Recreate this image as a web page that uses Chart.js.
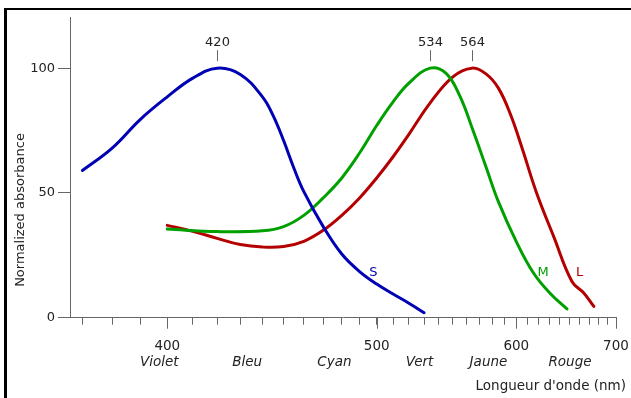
<!DOCTYPE html>
<html>
<head>
<meta charset="utf-8">
<script src="https://cdn.jsdelivr.net/npm/chart.js@4.4.0/dist/chart.umd.min.js"></script>
<style>
  body { margin: 0; background: #fff; }
  #wrap { position: relative; width: 631px; height: 398px; }
  #frame { position: absolute; left: 4px; top: 8px; right: 0; bottom: 0;
           border-left: 3px solid #000; border-top: 2px solid #000; pointer-events: none; }
</style>
</head>
<body>
<div id="wrap">
  <canvas id="myChart" width="631" height="398"></canvas>
  <div id="frame"></div>
</div>
<script>
// courbes S, M, L (longueur d'onde en nm, absorbance normalisee)
var sWl  = [370, 380, 390, 400, 410, 420, 430, 440, 445, 450, 455, 460, 470, 480, 490, 500, 510, 520, 530];
var sAbs = [59, 68, 79.5, 88.5, 96, 100, 97.5, 88.5, 81, 71, 60, 50.5, 36.5, 25.5, 18.5, 13.5, 9.5, 5.8, 2];

var mWl  = [400, 420, 440, 450, 460, 470, 480, 490, 500, 510, 520, 534, 545, 555, 565, 575, 585, 600, 615, 630, 647];
var mAbs = [35.5, 34.5, 34.8, 36.5, 41, 48, 56, 66, 77, 86.5, 94, 100, 98, 89, 75, 60.5, 46.5, 30.5, 18, 10, 3.5];

var lWl  = [400, 410, 420, 430, 440, 450, 460, 470, 480, 490, 500, 510, 520, 534, 550, 564, 575, 585, 595, 605, 618, 634, 652, 664, 675];
var lAbs = [37, 34.6, 31.8, 29.3, 28.3, 28.5, 30.6, 35, 41, 48, 56, 64.5, 73.5, 86, 96.5, 100, 97.7, 92, 81.5, 68, 50, 32.5, 14.5, 10, 4.5];

// axes
var minorWl = [370, 380, 390, 400, 410, 420, 430, 440, 450, 460, 470, 480, 490, 500, 510, 520, 530, 540, 550,
               560, 570, 580, 590, 600, 610, 620, 630, 640, 650, 660, 670, 680, 690, 700];
var majorWl = [400, 500, 600, 700];
var yTicks = [0, 50, 100];
var colorNames = ['Violet', 'Bleu', 'Cyan', 'Vert', 'Jaune', 'Rouge'];
var colorWl = [397, 433, 476, 527, 577, 650];

// pics et noms des courbes
var peakWl = [420, 534, 564];
var curveNames = ['S', 'M', 'L'];
var curveColors = ['#0000b4', '#00a000', '#b40000'];
var nameWl = [498, 624, 660];
var nameAbs = [18.2, 18.2, 18.2];

// echelle en 1/lambda
function inv(w) { return 1e6 / w; }
function toPoints(wl, v) {
    var pts = [];
    for (let i = 0; i < wl.length; i++) pts.push({x: inv(wl[i]), y: v[i]});
    return pts;
}

const font = 'DejaVu Sans, Verdana, sans-serif';

const overlay = {
    id: 'overlay',
    afterDraw(chart) {
        const ctx = chart.ctx;
        const x = chart.scales.x, y = chart.scales.y;
        ctx.save();
        // ticks majeurs plus longs
        ctx.strokeStyle = '#666';
        ctx.lineWidth = 1;
        majorWl.forEach(w => {
            const px = Math.round(x.getPixelForValue(inv(w))) + 0.5;
            ctx.beginPath();
            ctx.moveTo(px, y.bottom);
            ctx.lineTo(px, y.bottom + 11);
            ctx.stroke();
        });
        // pics
        const top = y.getPixelForValue(100);
        ctx.fillStyle = '#222';
        ctx.font = '13px ' + font;
        ctx.textAlign = 'center';
        ctx.textBaseline = 'middle';
        peakWl.forEach(w => {
            const px = Math.round(x.getPixelForValue(inv(w))) + 0.5;
            ctx.beginPath();
            ctx.moveTo(px, top - 18);
            ctx.lineTo(px, top - 7);
            ctx.stroke();
            ctx.fillText(String(w), px, top - 26);
        });
        // S M L
        for (let i = 0; i < curveNames.length; i++) {
            ctx.fillStyle = curveColors[i];
            ctx.fillText(curveNames[i], x.getPixelForValue(inv(nameWl[i])), y.getPixelForValue(nameAbs[i]));
        }
        // titres
        ctx.fillStyle = '#222';
        ctx.font = '13.5px ' + font;
        ctx.textAlign = 'right';
        ctx.fillText("Longueur d'onde (nm)", 626, 386);
        ctx.translate(21, 210);
        ctx.rotate(-Math.PI / 2);
        ctx.textAlign = 'center';
        ctx.font = '13px ' + font;
        ctx.fillText('Normalized absorbance', 0, 0);
        ctx.restore();
    }
};

const ctx = document.getElementById('myChart').getContext('2d');

const myChart = new Chart(ctx, {
    type: 'line',
    data: {
        datasets: [
            { label: 'S', data: toPoints(sWl, sAbs), borderColor: curveColors[0] },
            { label: 'M', data: toPoints(mWl, mAbs), borderColor: curveColors[1] },
            { label: 'L', data: toPoints(lWl, lAbs), borderColor: curveColors[2] }
        ]
    },
    options: {
        responsive: false,
        animation: false,
        layout: { padding: { left: 0, right: 15, top: 17, bottom: 0 } },
        elements: {
            line: { borderWidth: 3, fill: false, tension: 0.4, borderCapStyle: 'round', borderJoinStyle: 'round' },
            point: { radius: 0 }
        },
        plugins: { legend: { display: false }, tooltip: { enabled: false } },
        scales: {
            x: {
                type: 'linear',
                reverse: true,
                min: inv(700),
                max: inv(366),
                afterBuildTicks: (s) => { s.ticks = minorWl.map(w => ({value: inv(w)})); },
                afterFit: (s) => { s.height = 33; },
                grid: { drawOnChartArea: false, tickLength: 7, color: '#666' },
                border: { color: '#666' },
                ticks: {
                    autoSkip: false, maxRotation: 0, padding: 2, color: '#222',
                    font: { family: font, size: 13.5, lineHeight: 2.9 },
                    callback: (v) => {
                        const w = Math.round(1e6 / v);
                        return majorWl.includes(w) ? String(w) : '';
                    }
                }
            },
            x2: {
                type: 'linear',
                position: 'bottom',
                reverse: true,
                min: inv(700),
                max: inv(366),
                afterBuildTicks: (s) => { s.ticks = colorWl.map(w => ({value: inv(w)})); },
                afterFit: (s) => { s.height = 47.3; },
                grid: { display: false, drawTicks: false },
                border: { display: false },
                ticks: {
                    autoSkip: false, maxRotation: 0, padding: 4, color: '#222',
                    font: { family: font, size: 13.5, style: 'italic' },
                    callback: (v, i) => colorNames[i]
                }
            },
            y: {
                min: 0,
                max: 120.5,
                afterBuildTicks: (s) => { s.ticks = yTicks.map(v => ({value: v})); },
                afterFit: (s) => { s.width = 70; },
                grid: { drawOnChartArea: false, tickLength: 12, color: '#666' },
                border: { color: '#666' },
                ticks: { padding: 3, color: '#222', font: { family: font, size: 13 } }
            }
        }
    },
    plugins: [overlay]
});
</script>
</body>
</html>
